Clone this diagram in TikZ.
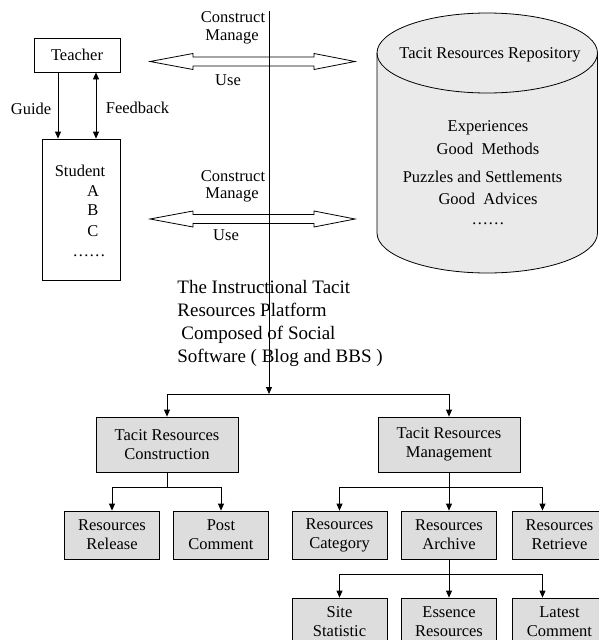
\documentclass[tikz,border=0pt]{standalone}
\usepackage{fontspec}
\setmainfont{Liberation Serif}
\usepackage{tikz}
\usetikzlibrary{arrows.meta,positioning}
\definecolor{boxgray}{RGB}{221,221,221}
\definecolor{cylgray}{RGB}{234,234,234}
\newcommand{\txtsize}{\fontsize{16.5}{19}\selectfont}
\newcommand{\bigsize}{\fontsize{19}{23}\selectfont}

\begin{document}
\begin{tikzpicture}[x=1pt,y=1pt,yscale=-1,line width=0.8pt,
  >={Triangle[length=7pt,width=6pt]},
  every node/.style={font=\txtsize, inner sep=0pt},
  plain/.style={draw, fill=white},
  box/.style={draw, fill=boxgray, align=center, minimum width=95pt, minimum height=48pt},
  topbox/.style={box, minimum width=142pt, minimum height=55pt}]
\useasboundingbox (0,0) rectangle (598,640);

%Repository cylinder
\draw[fill=cylgray] (377,53) -- (377,233) arc[start angle=180,end angle=0,x radius=110.25,y radius=40] -- (597.5,53) arc[start angle=0,end angle=-180,x radius=110.25,y radius=40] -- cycle;
\draw (377,53) arc[start angle=180,end angle=0,x radius=110.25,y radius=40];
\node (repo) at (490,55) {Tacit Resources Repository};
\node (exper) at (488,128) {Experiences};
\node (methods) at (488,149) {Good\ \ Methods};
\node (puzzles) at (482.5,177) {Puzzles and Settlements};
\node (advices) at (488,199) {Good\ \ Advices};
\node (repodots) at (488,224) {……};

%Teacher and student
\node[plain, minimum width=86pt, minimum height=34pt] (teacher) at (77,55) {Teacher};
\node[plain, minimum width=78pt, minimum height=141pt] (student) at (81,209.5) {};
\node (stuname) at (80,171) {Student};
\node (stua) at (93,191) {A};
\node (stub) at (93,210) {B};
\node (stuc) at (93,231) {C};
\node (studots) at (89,256) {……};
\draw[->] ([xshift=-19pt]teacher.south) -- ([xshift=-19pt]teacher.south |- student.north);
\draw[<->] ([xshift=19pt]teacher.south) -- ([xshift=19pt]teacher.south |- student.north);
\node (guide) at (31,109) {Guide};
\node (feedback) at (137.5,108) {Feedback};

%Fat double arrows
\draw[fill=white] (150,61.5) -- (193,53.5) -- (193,57) -- (314,57) -- (314,53.5) -- (355,61.5) -- (314,69.5) -- (314,66) -- (193,66) -- (193,69.5) -- cycle;
\draw[fill=white] (150,219) -- (193,211) -- (193,214.5) -- (314,214.5) -- (314,211) -- (355,219) -- (314,227) -- (314,223.5) -- (193,223.5) -- (193,227) -- cycle;
\node (cons1) at (233,17) {Construct};
\node (man1) at (232,37) {Manage};
\node (use1) at (228,80) {Use};
\node (cons2) at (233,176) {Construct};
\node (man2) at (232,195) {Manage};
\node (use2) at (226,235) {Use};

%Platform
\node[font=\bigsize, align=left, anchor=north west] (platform) at (177,280) {The Instructional Tacit\\Resources Platform\\\hspace{4pt}Composed of Social\\Software ( Blog and BBS )};
\coordinate (ptop) at (269,11);
\coordinate (hub) at (269,394);
\draw[->] (ptop) -- (hub);

%Tree
\node[topbox] (constr) at (167,444.5) {Tacit Resources\\Construction};
\node[topbox] (mgmt) at (449,444.5) {Tacit Resources\\Management};
\draw[->] (hub) -| (constr.north);
\draw[->] (hub) -| (mgmt.north);

\node[box] (release) at (112,535) {Resources\\Release};
\node[box] (post) at (221,535) {Post\\Comment};
\node[box] (category) at (339.5,535) {Resources\\Category};
\node[box] (archive) at (449,535) {Resources\\Archive};
\node[box] (retrieve) at (559.5,535) {Resources\\Retrieve};
\draw[->] (constr.south) -- ++(0,15) -| (release.north);
\draw[->] (constr.south) -- ++(0,15) -| (post.north);
\draw[->] (mgmt.south) -- ++(0,15) -| (category.north);
\draw[->] (mgmt.south) -- (archive.north);
\draw[->] (mgmt.south) -- ++(0,15) -| ([xshift=-17pt]retrieve.north);

\node[box] (site) at (339.5,622) {Site\\Statistic};
\node[box] (essence) at (449,622) {Essence\\Resources};
\node[box] (latest) at (559.5,622) {Latest\\Comment};
\draw[->] (archive.south) -- ++(0,15) -| (site.north);
\draw[->] (archive.south) -- (essence.north);
\draw[->] (archive.south) -- ++(0,15) -| ([xshift=-17pt]latest.north);
\end{tikzpicture}
\end{document}
